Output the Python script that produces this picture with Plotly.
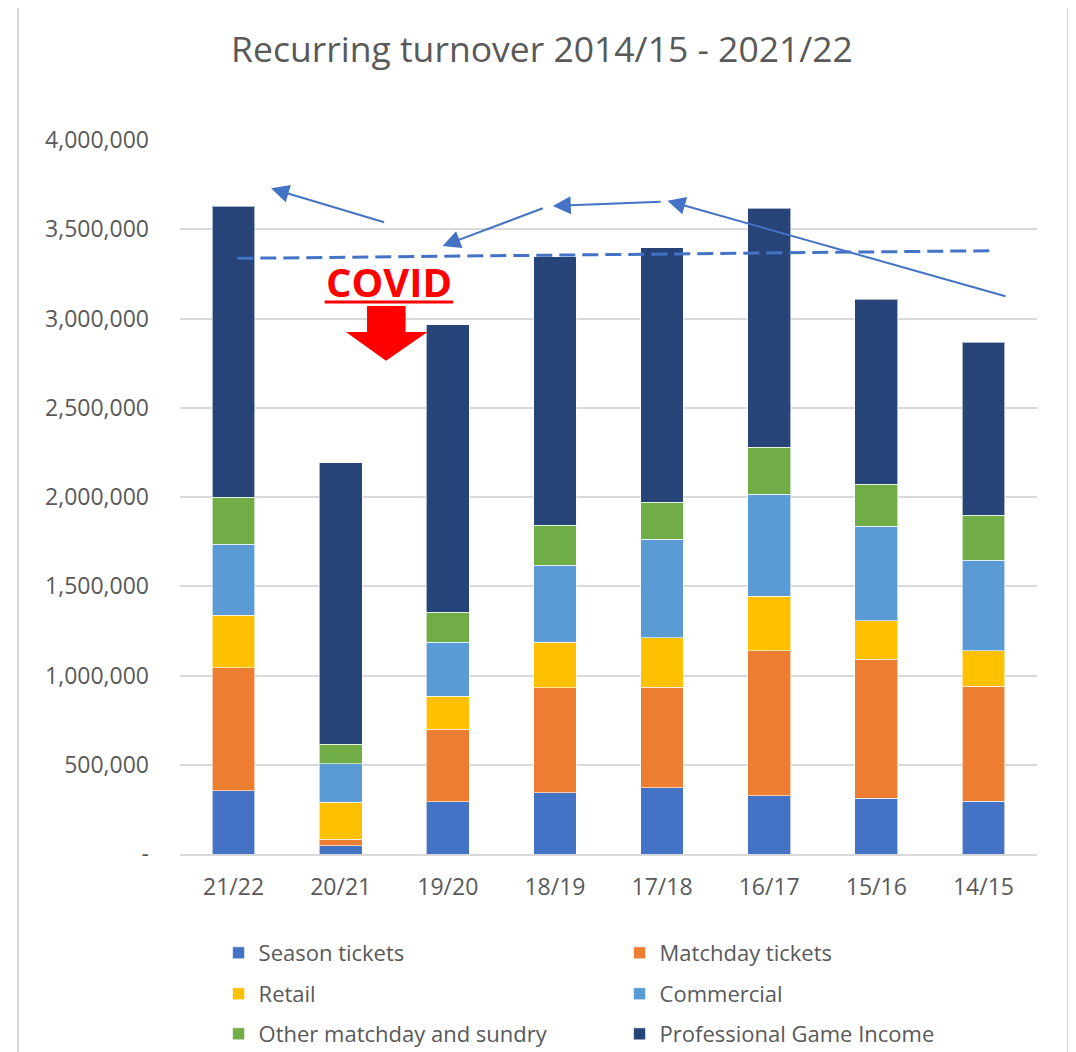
import plotly.graph_objects as go

# seasons, newest first as in the source chart
seasons = ["21/22", "20/21", "19/20", "18/19", "17/18", "16/17", "15/16", "14/15"]

season_tickets = [355000, 47000, 293000, 342000, 372000, 325000, 312000, 295000]
matchday_tickets = [689000, 35000, 407000, 590000, 562000, 814000, 779000, 644000]
retail = [293000, 209000, 185000, 254000, 278000, 305000, 216000, 200000]
commercial = [398000, 215000, 301000, 431000, 551000, 571000, 529000, 506000]
other_matchday = [263000, 109000, 168000, 226000, 209000, 263000, 235000, 254000]
professional_game = [1632000, 1578000, 1610000, 1502000, 1423000, 1341000, 1038000, 969000]

y_tick_vals = [0, 500000, 1000000, 1500000, 2000000, 2500000, 3000000, 3500000, 4000000]
y_tick_text = ["-", "500,000", "1,000,000", "1,500,000", "2,000,000",
               "2,500,000", "3,000,000", "3,500,000", "4,000,000"]

# hand drawn overlay: dashed level line and trend arrows (category index, value)
trend_x = [0.035, 7.10]
trend_y = [3337000, 3380000]
arrows = [  # (tail_x, tail_y, head_x, head_y)
    (1.42, 3537000, 0.35, 3729000),
    (2.90, 3621000, 1.95, 3406000),
    (4.00, 3654000, 2.98, 3630000),
    (7.22, 3122000, 4.05, 3660000),
]

series = [
    ("Season tickets", season_tickets, "#4472C4", "legend"),
    ("Matchday tickets", matchday_tickets, "#ED7D31", "legend"),
    ("Retail", retail, "#FFC000", "legend2"),
    ("Commercial", commercial, "#5B9BD5", "legend2"),
    ("Other matchday and sundry", other_matchday, "#70AD47", "legend3"),
    ("Professional Game Income", professional_game, "#264478", "legend3"),
]

TEXT = "#595959"
FONT = "Open Sans"
BLUE = "#4472C4"

fig = go.Figure()
for name, vals, color, leg in series:
    fig.add_trace(go.Bar(x=seasons, y=vals, name=name, marker_color=color,
                         marker_line=dict(color="rgba(255,255,255,0.6)", width=1),
                         width=0.4, legend=leg))

fig.add_shape(type="line", xref="x", yref="y", x0=trend_x[0], x1=trend_x[1],
              y0=trend_y[0], y1=trend_y[1], line=dict(color=BLUE, width=3, dash="16px,7px"))

for tx, ty, hx, hy in arrows:
    fig.add_annotation(x=hx, y=hy, ax=tx, ay=ty, xref="x", yref="y", axref="x", ayref="y",
                       text="", showarrow=True, arrowhead=2, arrowsize=1.8,
                       arrowwidth=2, arrowcolor=BLUE, standoff=0)

# COVID label with underline and red block arrow
fig.add_annotation(x=1.45, y=3208000, xref="x", yref="y", text="<b>COVID</b>",
                   showarrow=False, font=dict(family=FONT, size=40, color="#FF0000"))
fig.add_shape(type="line", xref="x", yref="y", x0=0.85, x1=2.05, y0=3092000, y1=3092000,
              line=dict(color="#FF0000", width=3))
fig.add_shape(type="path", xref="x", yref="y", fillcolor="#FF0000", line=dict(width=0),
              path="M 1.246 3070000 L 1.606 3070000 L 1.606 2924000 L 1.811 2924000 "
                   "L 1.423 2764000 L 1.049 2924000 L 1.246 2924000 Z")

# chart frame
fig.add_shape(type="rect", xref="paper", yref="paper", x0=-0.189, x1=1.036, y0=-0.35, y1=1.19,
              line=dict(color="#D9D9D9", width=2), layer="below")

legend_common = dict(orientation="h", x=0.045, xanchor="left", yanchor="middle",
                     yref="container", entrywidth=356,
                     font=dict(family=FONT, size=22, color=TEXT),
                     bgcolor="rgba(0,0,0,0)", traceorder="normal")

fig.update_layout(
    width=1068, height=1044,
    margin=dict(l=172, r=39, t=132, b=198),
    barmode="stack",
    plot_bgcolor="white", paper_bgcolor="white",
    font=dict(family=FONT, color=TEXT),
    title=dict(text="Recurring turnover 2014/15 - 2021/22", x=0.5, xanchor="center",
               y=0.9598, yanchor="middle", font=dict(family=FONT, size=35.5, color=TEXT)),
    xaxis=dict(showgrid=False, showline=True, linecolor="#D9D9D9", linewidth=2,
               ticks="", tickfont=dict(size=23, color=TEXT), ticklabelstandoff=11),
    yaxis=dict(range=[0, 4000000], tickvals=y_tick_vals, ticktext=y_tick_text,
               showgrid=True, gridcolor="#D9D9D9", gridwidth=1.5, zeroline=False,
               tickfont=dict(size=23, color=TEXT), ticklabelstandoff=30),
    legend=dict(legend_common, y=0.0948),
    legend2=dict(legend_common, y=0.0556),
    legend3=dict(legend_common, y=0.0172),
)

fig.write_html("out.html")
